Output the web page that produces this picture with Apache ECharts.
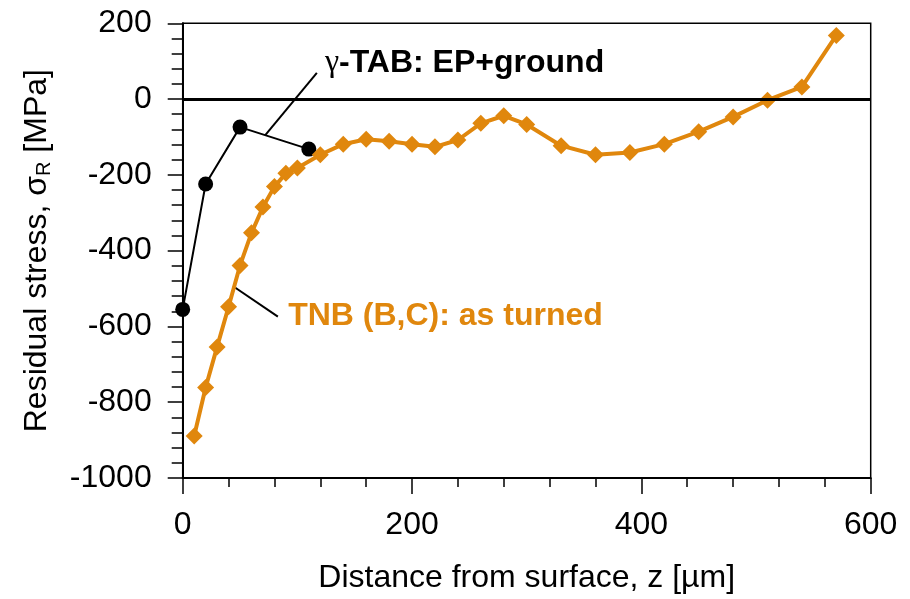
<!DOCTYPE html>
<html>
<head>
<meta charset="utf-8">
<script src="https://cdn.jsdelivr.net/npm/echarts@6/dist/echarts.min.js"></script>
<style>
  html, body { margin: 0; padding: 0; background: #fff; }
  #chart { width: 910px; height: 599px; }
</style>
</head>
<body>
<div id="chart"></div>
<script>
// Residual stress depth profiles
const tabDepth  = [0, 20, 50, 110];
const tabStress = [-555, -224, -74, -132];

const tnbDepth  = [10, 20, 30, 40, 50, 60, 70, 80, 90, 100, 120, 140, 160, 180, 200,
                   220, 240, 260, 280, 300, 330, 360, 390, 420, 450, 480, 510, 540, 570];
const tnbStress = [-889, -761, -654, -548, -439, -353, -285, -231, -196, -182, -147, -119, -106, -111, -119,
                   -126, -108, -64, -44, -67, -123, -147, -141, -119, -86, -47, -3, 32, 168];

const xTicks = [0, 200, 400, 600];
const yTicks = [-1000, -800, -600, -400, -200, 0, 200];

// Callout leaders (data units) and their text anchors
const tabLeader = [[117, 69], [72, -95]];
const tnbLeader = [[44, -494], [83, -574]];
const tabLabelAt = [124, 95];
const tnbLabelAt = [92, -574];

const ORANGE = '#E0870D';
const FONT = "'Liberation Sans', Arial, sans-serif";

const chart = echarts.init(document.getElementById('chart'), null, { renderer: 'canvas' });

function pairs(xs, ys) { return xs.map((x, i) => [x, ys[i]]); }
const plain = v => String(v);

const option = {
  animation: false,
  backgroundColor: '#fff',
  grid: {
    left: 182.7, right: 39.3, top: 23.3, bottom: 119,
    show: true, borderColor: '#000', borderWidth: 1.5, backgroundColor: 'transparent'
  },
  xAxis: [
    {
      type: 'value', position: 'bottom',
      min: xTicks[0], max: xTicks[xTicks.length - 1], interval: 200,
      name: 'Distance from surface, z [µm]',
      nameLocation: 'middle', nameGap: 84,
      nameTextStyle: { fontFamily: FONT, fontSize: 32, color: '#000' },
      axisLine: { show: true, onZero: false, lineStyle: { color: '#000', width: 2 } },
      axisTick: { show: true, inside: false, length: 16, lineStyle: { color: '#000', width: 1.5 } },
      minorTick: { show: false },
      splitLine: { show: false },
      axisLabel: { fontFamily: FONT, fontSize: 32, color: '#000', margin: 31, formatter: plain }
    },
    {
      // short ticks every 40 µm along the bottom edge
      type: 'value', position: 'bottom', offset: 0,
      min: xTicks[0], max: xTicks[xTicks.length - 1], interval: 40,
      axisLine: { show: false, onZero: false },
      axisTick: { show: true, inside: false, length: 9, lineStyle: { color: '#000', width: 1.5 } },
      axisLabel: { show: false },
      splitLine: { show: false }
    }
  ],
  yAxis: {
    type: 'value',
    min: yTicks[0], max: yTicks[yTicks.length - 1], interval: 200,
    name: 'Residual stress, σ{sub|R} [MPa]',
    nameLocation: 'middle', nameGap: 128, nameRotate: 90,
    nameTextStyle: {
      fontFamily: FONT, fontSize: 32, color: '#000',
      rich: { sub: { fontFamily: FONT, fontSize: 20, color: '#000', verticalAlign: 'bottom', padding: [15, 0, 0, 0] } }
    },
    axisLine: { show: true, onZero: false, lineStyle: { color: '#000', width: 2 } },
    axisTick: { show: true, inside: false, length: 15, lineStyle: { color: '#000', width: 1.5 } },
    minorTick: { show: true, splitNumber: 5, length: 11, lineStyle: { color: '#000', width: 1.5 } },
    splitLine: { show: false },
    axisLabel: { fontFamily: FONT, fontSize: 32, color: '#000', margin: 31, formatter: plain }
  },
  series: [
    {
      name: 'γ-TAB: EP+ground',
      type: 'line',
      data: pairs(tabDepth, tabStress),
      symbol: 'circle', symbolSize: 15,
      itemStyle: { color: '#000' },
      lineStyle: { color: '#000', width: 2 },
      z: 3,
      markLine: {
        silent: true, symbol: 'none', label: { show: false },
        lineStyle: { color: '#000', width: 3, type: 'solid' },
        data: [{ yAxis: 0 }]
      }
    },
    {
      name: 'TNB (B,C): as turned',
      type: 'line',
      data: pairs(tnbDepth, tnbStress),
      symbol: 'diamond', symbolSize: 17,
      itemStyle: { color: ORANGE },
      lineStyle: { color: ORANGE, width: 4 },
      z: 4
    },
    {
      // leader for the γ-TAB curve
      type: 'line', data: tabLeader, symbol: 'none', silent: true,
      lineStyle: { color: '#000', width: 2 }, z: 2
    },
    {
      // leader for the TNB curve
      type: 'line', data: tnbLeader, symbol: 'none', silent: true,
      lineStyle: { color: '#000', width: 2 }, z: 2
    },
    {
      type: 'scatter', silent: true, symbolSize: 0,
      itemStyle: { opacity: 1 },
      data: [
        { value: tabLabelAt, label: {
            show: true, position: 'right', distance: 0,
            formatter: '{g|γ}-TAB: EP+ground',
            fontFamily: FONT, fontSize: 32, fontWeight: 'bold', color: '#000',
            rich: { g: { fontFamily: "'Liberation Serif', 'Times New Roman', serif", fontSize: 32, fontWeight: 'normal', color: '#000' } }
        } },
        { value: tnbLabelAt, label: {
            show: true, position: 'right', distance: 0,
            formatter: 'TNB (B,C): as turned',
            fontFamily: FONT, fontSize: 32, fontWeight: 'bold', color: ORANGE
        } }
      ],
      z: 5
    }
  ]
};

chart.setOption(option);
</script>
</body>
</html>
